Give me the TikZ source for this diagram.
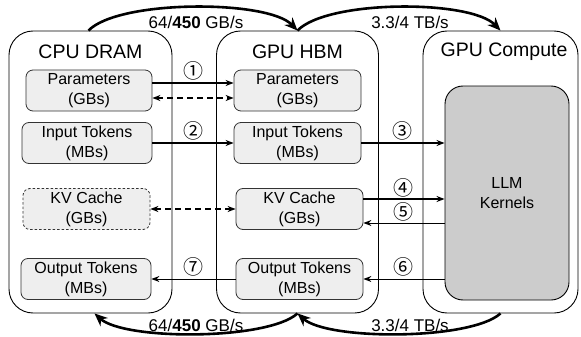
\documentclass[tikz,border=0pt]{standalone}
\usepackage{fontspec}
\setmainfont{Liberation Sans}
\newfontfamily\circfont{Noto Sans CJK SC}
\usetikzlibrary{arrows.meta}
\definecolor{boxfill}{HTML}{EEEEEE}
\definecolor{llmfill}{HTML}{CCCCCC}
\begin{document}
\begin{tikzpicture}[x=1pt,y=-1pt,
  container/.style={draw=black,line width=0.9pt,rounded corners=24pt,inner sep=0pt},
  title/.style={font=\fontsize{19.5}{22}\selectfont},
  ibox/.style={draw=black!80,line width=0.8pt,fill=boxfill,rounded corners=7pt,align=center,
    inner sep=0pt,minimum height=41pt,font=\fontsize{16}{20}\selectfont},
  thick arrow/.style={line width=1.6pt,-{Stealth[length=8pt,width=6pt]}},
  thin arrow/.style={line width=1pt,-{Stealth[length=8pt,width=6pt]}},
  dash arrow/.style={line width=1.6pt,dash pattern=on 6pt off 4pt,{Stealth[length=8pt,width=6pt]}-{Stealth[length=8pt,width=6pt]}},
  arc/.style={line width=2.6pt,-{Stealth[length=13pt,width=11pt]}},
  num/.style={font=\circfont\fontsize{20}{20}\selectfont,inner sep=0pt},
  bw/.style={font=\fontsize{17}{17}\selectfont,inner sep=0pt}]
\useasboundingbox (0,0) rectangle (581,337);
% containers
\node[container,minimum width=163pt,minimum height=282pt] (cpu) at (90.5,172) {};
\node[container,minimum width=162pt,minimum height=282pt] (hbm) at (297.5,172) {};
\node[container,minimum width=155pt,minimum height=282pt] (comp) at (500.5,172) {};
\node[title] (tcpu) at (90.5,52) {CPU DRAM};
\node[title] (thbm) at (297.5,52) {GPU HBM};
\node[title] (tcomp) at (504,52) {GPU Compute};
% CPU boxes
\node[ibox,minimum width=126pt] (cp) at (89,90.5) {Parameters\\(GBs)};
\node[ibox,minimum width=130pt] (ci) at (87,143) {Input Tokens\\(MBs)};
\node[ibox,minimum width=127pt,dashed,dash pattern=on 2.5pt off 2pt] (ck) at (86.5,209) {KV Cache\\(GBs)};
\node[ibox,minimum width=130pt] (co) at (86,279) {Output Tokens\\(MBs)};
% GPU boxes
\node[ibox,minimum width=127pt] (gp) at (297.5,90.5) {Parameters\\(GBs)};
\node[ibox,minimum width=127pt] (gi) at (297.5,143) {Input Tokens\\(MBs)};
\node[ibox,minimum width=127pt] (gk) at (299.5,209) {KV Cache\\(GBs)};
\node[ibox,minimum width=127pt] (go) at (299.5,279) {Output Tokens\\(MBs)};
% LLM
\node[draw=black,line width=0.9pt,fill=llmfill,rounded corners=18pt,minimum width=124pt,minimum height=214pt,inner sep=0pt] (llm) at (507,193) {};
\node[align=center,font=\fontsize{16}{20}\selectfont] (llmt) at (507,193) {LLM\\Kernels};
% arrows
\draw[thick arrow] ([yshift=7.5pt]cp.east) -- node[num,above=2pt] {①} ([yshift=7.5pt]gp.west);
\draw[dash arrow] ([yshift=-7.5pt]cp.east) -- ([yshift=-7.5pt]gp.west);
\draw[thick arrow] (ci.east) -- node[num,above=2pt] {②} (gi.west);
\draw[thick arrow] (gi.east) -- node[num,above=2pt] {③} (gi.east -| llm.west);
\draw[dash arrow] (ck.east) -- (gk.west);
\draw[thick arrow] ([yshift=10pt]gk.east) -- node[num,above=1pt] {④} ([yshift=10pt]gk.east -| llm.west);
\draw[thin arrow] ([yshift=-14pt]gk.east -| llm.west) -- node[num,above=1pt] {⑤} ([yshift=-14pt]gk.east);
\draw[thin arrow] (go.east -| llm.west) -- node[num,above=2pt] {⑥} (go.east);
\draw[thin arrow] (go.west) -- node[num,above=2pt] {⑦} (co.east);
% arcs
\draw[arc] ([xshift=-2pt]cpu.north) .. controls +(30,-31) and +(-30,-31) .. (hbm.north);
\draw[arc] (hbm.north) .. controls +(30,-31) and +(-30,-31) .. (comp.north);
\draw[arc] (comp.south) .. controls +(-30,27) and +(30,27) .. (hbm.south);
\draw[arc] (hbm.south) .. controls +(-30,27) and +(30,27) .. ([xshift=4pt]cpu.south);
\node[bw] (l1) at (196,22) {64/\textbf{450} GB/s};
\node[bw] (l2) at (410,22) {3.3/4 TB/s};
\node[bw] (l3) at (196,325) {64/\textbf{450} GB/s};
\node[bw] (l4) at (410,325) {3.3/4 TB/s};
\end{tikzpicture}
\end{document}
